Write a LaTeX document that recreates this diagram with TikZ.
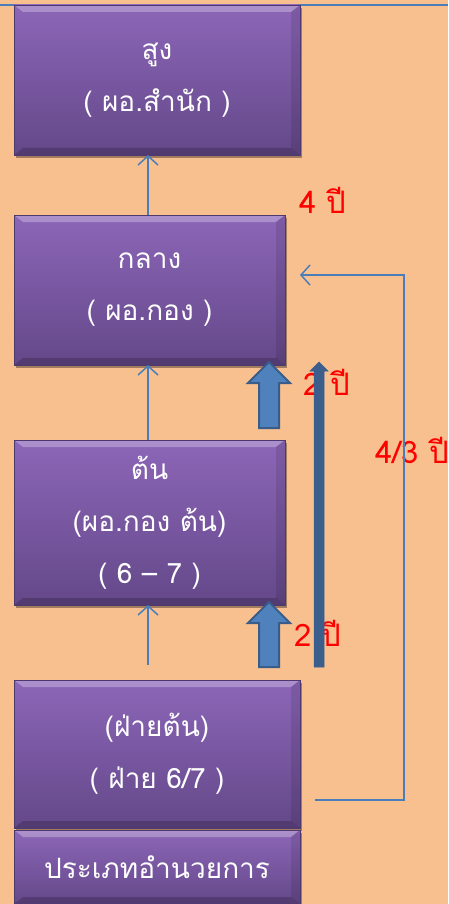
\documentclass[tikz,border=0pt]{standalone}
\usepackage{fontspec}
\newfontfamily\thai[Script=Thai]{Loma}
\usetikzlibrary{arrows.meta,shadows,calc}
\definecolor{bg}{HTML}{F9C08F}
\definecolor{boxtop}{HTML}{8C66B8}
\definecolor{boxbot}{HTML}{644889}
\definecolor{boxedge}{HTML}{4E3870}
\definecolor{conncol}{HTML}{4A7EBB}
\definecolor{blk}{HTML}{4F81BD}
\definecolor{blkedge}{HTML}{385D8A}
\definecolor{barcol}{HTML}{3B5E8C}
\definecolor{lbl}{HTML}{FF0000}
\begin{document}
\begin{tikzpicture}[x=1pt,y=-1pt,
 lvl/.style={rectangle, inner sep=0pt, outer sep=0pt, top color=boxtop, bottom color=boxbot,
   draw=boxedge, line width=0.8pt, text=white, align=center,
   font=\thai\fontsize{28}{52}\selectfont,
   drop shadow={shadow xshift=2pt, shadow yshift=-3pt, opacity=0.35, fill=black},
   path picture={
     \fill[white,opacity=0.28] (path picture bounding box.north west) -- (path picture bounding box.north east)
       -- ([xshift=-9pt,yshift=-7pt]path picture bounding box.north east) -- ([xshift=9pt,yshift=-7pt]path picture bounding box.north west) -- cycle;
     \fill[black,opacity=0.18] (path picture bounding box.south west) -- (path picture bounding box.south east)
       -- ([xshift=-9pt,yshift=7pt]path picture bounding box.south east) -- ([xshift=9pt,yshift=7pt]path picture bounding box.south west) -- cycle;
     \fill[black,opacity=0.10] (path picture bounding box.north east) -- (path picture bounding box.south east)
       -- ([xshift=-9pt,yshift=7pt]path picture bounding box.south east) -- ([xshift=-9pt,yshift=-7pt]path picture bounding box.north east) -- cycle;
   }},
 link/.style={draw=conncol, line width=1.5pt, -{Straight Barb[length=9pt,width=20pt]}},
 blockarrow/.style={fill=blk, draw=blkedge, line width=2pt, line join=miter},
 bararrow/.style={fill=barcol, draw=barcol, line width=0.5pt},
 years/.style={text=lbl, font=\thai\fontsize{31}{34}\selectfont, inner sep=0pt}
]
\useasboundingbox (0,0) rectangle (448,904);
\fill[bg] (0,0) rectangle (448,904);
\coordinate (tl) at (0,5);
\coordinate (tr) at (448,5);
\draw[conncol, line width=1.5pt] (tl) -- (tr);

% boxes
\node[lvl, minimum width=286pt, minimum height=150pt] (high) at (157,80) {สูง\\( ผอ.สำนัก )};
\node[lvl, minimum width=271pt, minimum height=150pt] (mid) at (149.5,290) {กลาง\\( ผอ.กอง )};
\node[lvl, minimum width=271pt, minimum height=165pt] (low) at (149.5,522.5) {ต้น\\(ผอ.กอง ต้น)\\( 6 – 7 )};
\node[lvl, minimum width=286pt, minimum height=148pt] (dept) at (157,754) {(ฝ่ายต้น)\\( ฝ่าย 6/7 )};
\node[lvl, minimum width=286pt, minimum height=74pt] (type) at (157,867) {ประเภทอำนวยการ};

% thin connectors
\draw[link] ($(mid.north west)+(134,0)$) -- ($(high.south west)+(134,0)$);
\draw[link] ($(low.north west)+(134,0)$) -- ($(mid.south west)+(134,0)$);
\coordinate (s3) at (148,665);
\draw[link] (s3) -- ($(low.south west)+(134,0)$);

\coordinate (r0) at (315,800);
\coordinate (rc) at (404,275);
\coordinate (r1) at (300,275);
\draw[link] (r0) -| (rc) -- (r1);

% labels
\node[years] (y4) at (323,200) {4 ปี};
\node[years] (y2a) at (327,382) {2 ปี};
\node[years] (y43) at (412,450) {4/3 ปี};
\node[years] (y2b) at (318,633) {2 ปี};
\draw[conncol, line width=1.5pt] (404,420) -- (404,480);

% block arrows
\draw[blockarrow] (269,362) -- (290,383) -- (279,383) -- (279,428) -- (259,428) -- (259,383) -- (248,383) -- cycle;
\draw[blockarrow] (269,602) -- (290,623) -- (279,623) -- (279,667) -- (259,667) -- (259,623) -- (248,623) -- cycle;
\draw[bararrow] (319,362) -- (328,371) -- (324,371) -- (324,667) -- (314,667) -- (314,371) -- (310,371) -- cycle;
\end{tikzpicture}
\end{document}
